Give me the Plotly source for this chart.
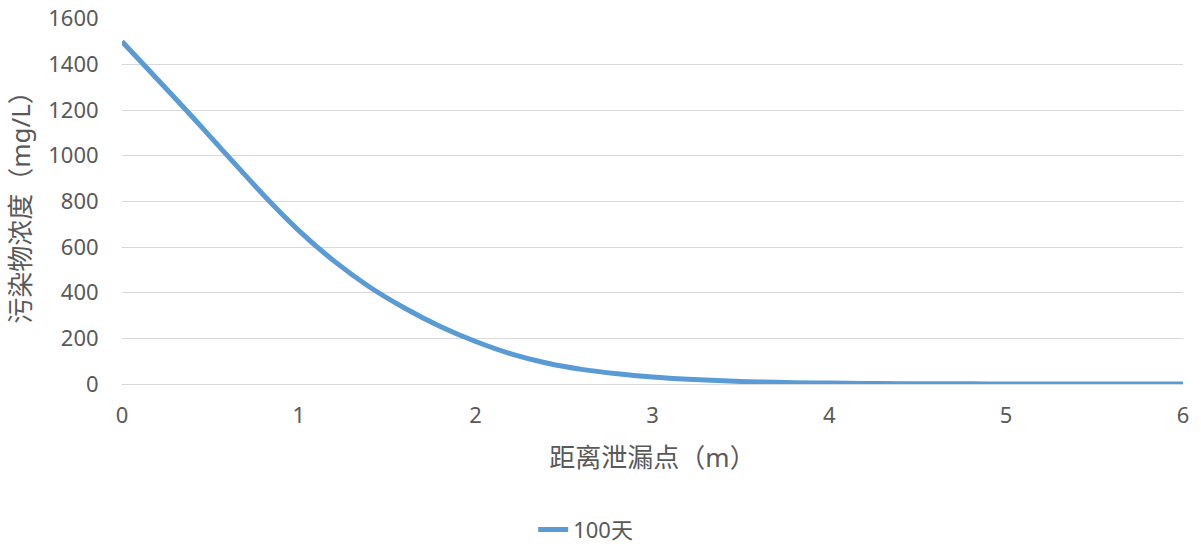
import plotly.graph_objects as go

# distance from leak point (m)
distance = [0.0, 0.2, 0.4, 0.6, 0.8, 1.0, 1.2, 1.4, 1.6, 1.8, 2.0,
            2.2, 2.4, 2.6, 2.8, 3.0, 3.2, 3.4, 3.6, 3.8, 4.0,
            4.2, 4.4, 4.6, 4.8, 5.0, 5.2, 5.4, 5.6, 5.8, 6.0]
# concentration (mg/L), 100 days
conc_100d = [1500, 1335, 1168, 997, 828, 672, 538, 425, 332, 252, 186,
             132, 92, 64, 45, 31, 21, 14, 9, 6, 4,
             2.5, 1.5, 1.0, 0.6, 0.4, 0.2, 0.1, 0.1, 0.0, 0.0]
series_name = "100天"
x_title = "距离泄漏点（m）"
y_title = "污染物浓度（mg/L）"

FONT = "Noto Sans, Noto Sans CJK SC, sans-serif"
GREY = "#595959"

fig = go.Figure()
fig.add_trace(go.Scatter(
    x=distance, y=conc_100d, mode="lines", name=series_name,
    line=dict(color="#5B9BD5", width=5, shape="spline", smoothing=0.8),
))

fig.update_layout(
    width=1201, height=549,
    margin=dict(l=122, r=18, t=18, b=165),
    paper_bgcolor="white", plot_bgcolor="white",
    font=dict(family=FONT, color=GREY, size=22),
    showlegend=True,
    legend=dict(orientation="h", x=0.3875, xanchor="left",
                yref="container", y=0.035, yanchor="middle",
                font=dict(size=22, color=GREY, family=FONT), bgcolor="rgba(0,0,0,0)"),
    xaxis=dict(range=[0, 6], dtick=1, tick0=0, showgrid=False, zeroline=False,
               showline=False, ticks="outside", ticklen=12, tickcolor="rgba(0,0,0,0)",
               automargin=False, ticklabeloverflow="allow",
               tickfont=dict(size=22, color=GREY, family=FONT),
               title=dict(text=x_title, font=dict(size=26, color=GREY, family=FONT), standoff=20)),
    yaxis=dict(range=[0, 1603], tickvals=[0, 200, 400, 600, 800, 1000, 1200, 1400, 1600],
               showgrid=True, gridcolor="#D9D9D9",
               gridwidth=1, zeroline=True, zerolinecolor="#D9D9D9", zerolinewidth=1,
               showline=False, ticks="outside", ticklen=18, tickcolor="rgba(0,0,0,0)",
               automargin=False, ticklabeloverflow="allow",
               tickfont=dict(size=22, color=GREY, family=FONT),
               title=dict(text=y_title, font=dict(size=26, color=GREY, family=FONT), standoff=10)),
)

fig.write_html("out.html", config={"displayModeBar": False},
               post_script="document.body.style.margin='0';")
